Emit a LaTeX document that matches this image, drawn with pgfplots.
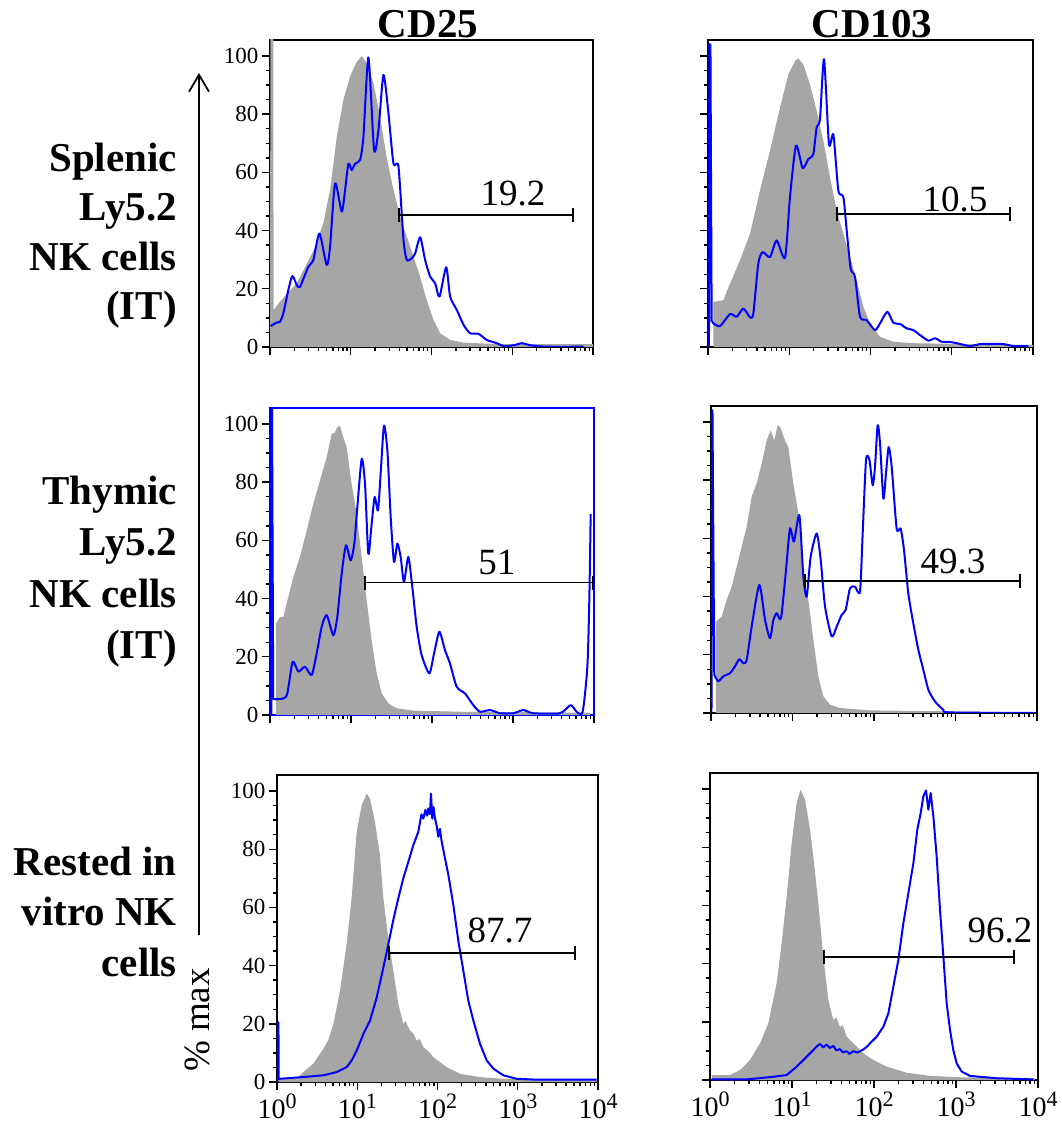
\documentclass[border=0pt]{standalone}
\usepackage{fontspec}
\setmainfont{Liberation Serif}
\usepackage{pgfplots}
\pgfplotsset{compat=1.18}
\usetikzlibrary{arrows.meta}
\definecolor{histgray}{RGB}{166,166,166}
\definecolor{fblue}{RGB}{0,0,255}
\newcommand\tsup[1]{\raisebox{10.5pt}{\fontsize{22}{22}\selectfont #1}}
\pgfplotsset{
 facs/.style={
  scale only axis, height=307pt,
  xmin=0, xmax=4, ymin=0, ymax=105.5,
  axis line style={line width=1.8pt, black},
  tick align=outside, tick pos=left,
  xtick={0,1,2,3,4},
  minor xtick={0.301,0.477,0.602,0.699,0.778,0.845,0.903,0.954,
   1.301,1.477,1.602,1.699,1.778,1.845,1.903,1.954,
   2.301,2.477,2.602,2.699,2.778,2.845,2.903,2.954,
   3.301,3.477,3.602,3.699,3.778,3.845,3.903,3.954},
  ytick={0,20,40,60,80,100},
  minor y tick num=3,
  major tick length=8pt, minor tick length=4pt,
  tick style={black, line width=1.4pt},
  /pgf/number format/assume math mode=true,
  yticklabel style={font=\fontsize{23}{23}\selectfont},
  xticklabel style={font=\fontsize{28}{28}\selectfont},
  no markers,
 },
}
\tikzset{
 greyfill/.style={fill=histgray, draw=none},
 blueline/.style={fblue, line width=2pt, line join=round},
 gate/.style={line width=1.6pt, {Bar[width=14pt,line width=1.6pt]}-{Bar[width=14pt,line width=1.6pt]}},
 numlab/.style={anchor=base, inner sep=0pt, font=\fontsize{37}{37}\selectfont},
}
\begin{document}
\begin{tikzpicture}
\path[use as bounding box] (0pt,0pt) rectangle (1062pt,1130pt);

% ---------- Row 1, left: CD25 splenic
\begin{axis}[facs, at={(270pt,783pt)}, anchor=south west, width=323pt, xticklabels={}]
\addplot[greyfill] coordinates {(0,0) (0.005,110) (0.04,110) (0.045,12.7) (0.124,15.6) (0.33,21.9) (0.537,33) (0.661,42.5) (0.744,54) (0.826,72) (0.909,85) (0.992,93) (1.074,98) (1.136,100) (1.198,97.5) (1.281,90.6) (1.364,79) (1.446,65) (1.529,54) (1.612,44.8) (1.694,38) (1.777,31) (1.86,24) (1.942,16) (2.025,9.3) (2.107,4.7) (2.231,2.4) (2.397,1.5) (2.81,1) (4,1)} \closedcycle;
\addplot[blueline, smooth, tension=0.4] coordinates {(0.008,7.2) (0.083,8.4) (0.124,8.7) (0.165,11.6) (0.227,19.6) (0.277,24.4) (0.331,21.3) (0.372,20.7) (0.475,27.6) (0.537,29.9) (0.612,39) (0.702,28.2) (0.744,34.5) (0.806,56.2) (0.888,46.5) (0.93,54) (0.971,63) (1.012,60.8) (1.054,63) (1.116,64.3) (1.157,72.3) (1.219,99.5) (1.289,67.7) (1.343,74.6) (1.405,93.5) (1.467,80.3) (1.529,63) (1.591,62) (1.653,36.8) (1.694,29.9) (1.756,30.5) (1.798,32.2) (1.86,37.7) (1.921,29.9) (1.983,24.2) (2.045,21.9) (2.099,17.3) (2.182,27.4) (2.231,17.3) (2.314,12.7) (2.397,7.6) (2.479,4.7) (2.583,4.5) (2.686,2.4) (2.81,1.3) (2.893,0.3) (3.017,0.6) (3.12,1.3) (3.223,0.6) (3.43,0.1) (3.884,0.1)};
\draw[gate] (axis cs:1.585,45.4) -- (axis cs:3.765,45.4);
\node[numlab] at (axis cs:3.009,48.5) {19.2};
\end{axis}

% ---------- Row 1, right: CD103 splenic
\begin{axis}[facs, at={(708pt,783pt)}, anchor=south west, width=325pt, xticklabels={}, yticklabels={}]
\addplot[greyfill] coordinates {(0.066,0) (0.066,15.5) (0.189,16.1) (0.271,21.8) (0.394,29.8) (0.517,38.9) (0.64,53.8) (0.763,67.5) (0.886,82.3) (0.989,93.7) (1.071,98.3) (1.112,99.2) (1.173,97.1) (1.255,90.3) (1.337,81.2) (1.419,70.9) (1.502,58.3) (1.584,46.9) (1.666,38.9) (1.748,30.9) (1.83,22.9) (1.912,13.8) (1.994,8.1) (2.117,3.5) (2.281,1.8) (2.527,1.3) (3.943,0.7) (4,0.7)} \closedcycle;
\addplot[blueline, sharp plot] coordinates {(0.012,0) (0.016,104) (0.03,104) (0.045,9) (0.066,8.1)};
\addplot[blueline, smooth, tension=0.4] coordinates {(0.066,8.1) (0.148,7.2) (0.271,11.3) (0.353,10.4) (0.435,13.2) (0.517,10.2) (0.558,11.5) (0.619,28.7) (0.673,32.6) (0.763,30.9) (0.845,36.6) (0.948,30.7) (1.009,51.5) (1.083,69.2) (1.165,61.5) (1.235,64.6) (1.296,66.3) (1.337,75.5) (1.378,78.3) (1.428,98.9) (1.489,69.7) (1.543,73) (1.604,53.8) (1.666,51.5) (1.707,40) (1.756,26.9) (1.809,24.1) (1.871,10.4) (1.953,9.2) (2.055,5.8) (2.117,8.1) (2.207,12.1) (2.281,8.3) (2.363,7.9) (2.445,6.4) (2.527,5.8) (2.609,4.1) (2.712,2.2) (2.794,3) (2.876,1.8) (2.958,1.8) (3.061,1.3) (3.225,0.3) (3.348,1) (3.635,1) (3.758,0.3) (3.943,0.3)};
\draw[gate] (axis cs:1.575,45.7) -- (axis cs:3.729,45.7);
\node[numlab] at (axis cs:3.04,46.4) {10.5};
\end{axis}

% ---------- Row 2, left: CD25 thymic
\begin{axis}[facs, at={(270pt,415pt)}, anchor=south west, width=324pt, xticklabels={}, axis line style={fblue, line width=1.8pt}]
\addplot[greyfill] coordinates {(0.074,0) (0.074,31.4) (0.123,33.7) (0.165,33.7) (0.226,40.6) (0.288,47.4) (0.37,54.3) (0.453,63.4) (0.535,72.6) (0.617,80.6) (0.7,88.6) (0.761,96.6) (0.802,97.1) (0.831,98.9) (0.864,99.4) (0.905,95.4) (0.947,92) (1.008,79.4) (1.07,69.1) (1.132,54.3) (1.193,39.4) (1.255,25.7) (1.317,14.3) (1.379,7.4) (1.461,4) (1.564,2.3) (1.77,1.5) (2.387,1.1) (3.951,0.8)} \closedcycle;
\addplot[blueline, sharp plot] coordinates {(0.004,0) (0.008,110) (0.016,0) (0.024,110) (0.04,5.5) (0.074,5.4)};
\addplot[blueline, smooth, tension=0.4] coordinates {(0.074,5.4) (0.165,5.7) (0.214,7.4) (0.28,18.3) (0.35,14.9) (0.432,16.6) (0.514,13.7) (0.576,21.1) (0.638,30.3) (0.7,34.3) (0.782,27.4) (0.831,33.7) (0.885,48.6) (0.938,58.3) (0.996,53.1) (1.041,58.9) (1.078,71.4) (1.132,88) (1.173,79.4) (1.214,55.4) (1.255,65.7) (1.292,74.9) (1.333,70.3) (1.366,82.9) (1.407,99.4) (1.449,90.9) (1.49,68) (1.531,52.6) (1.572,58.9) (1.613,54.3) (1.654,45.7) (1.708,54.3) (1.761,42.9) (1.811,30.3) (1.872,20.6) (1.967,14.3) (2.025,21.1) (2.091,28.6) (2.16,22.3) (2.222,17.7) (2.305,9.7) (2.407,7.4) (2.51,3.4) (2.593,1.1) (2.716,1.7) (2.84,0.6) (3.004,0.6) (3.128,1.7) (3.251,0.6) (3.58,0.6) (3.712,3.4) (3.786,1.1) (3.86,1.1) (3.918,16.6) (3.942,39.4) (3.959,69.1)};
\draw[gate] (axis cs:1.16,45.5) -- (axis cs:3.995,45.5);
\node[numlab] at (axis cs:2.802,48.3) {51};
\end{axis}

% ---------- Row 2, right: CD103 thymic
\begin{axis}[facs, at={(711pt,417pt)}, anchor=south west, width=326pt, xticklabels={}, yticklabels={}]
\addplot[greyfill] coordinates {(0.061,0) (0.061,31.4) (0.131,33.1) (0.192,38.9) (0.254,43.4) (0.315,50.3) (0.376,57.1) (0.438,64) (0.499,74.3) (0.56,78.9) (0.622,85.7) (0.683,93.7) (0.732,97.1) (0.777,93.7) (0.818,98.9) (0.847,98.3) (0.908,93.7) (0.949,91.4) (1.01,78.9) (1.072,68.6) (1.133,48) (1.194,38.9) (1.256,25.1) (1.317,12.6) (1.378,5.7) (1.46,2.9) (1.583,1.7) (1.951,0.9) (3.955,0.2)} \closedcycle;
\addplot[blueline, sharp plot] coordinates {(0.006,0) (0.008,104) (0.018,104) (0.04,13) (0.049,12.6)};
\addplot[blueline, smooth, tension=0.4] coordinates {(0.049,12.6) (0.09,10.9) (0.151,12.6) (0.233,13.7) (0.294,16) (0.348,18.5) (0.397,17.1) (0.438,18.3) (0.499,29.7) (0.593,44) (0.663,32) (0.724,25.7) (0.765,32) (0.806,34.3) (0.859,32.6) (0.92,49.1) (0.969,63.4) (1.018,58.9) (1.084,68) (1.133,46.9) (1.174,40) (1.223,53.7) (1.297,61.7) (1.346,52.6) (1.399,36.6) (1.481,26.3) (1.542,29.7) (1.603,33.7) (1.652,35.4) (1.706,42.9) (1.767,43.4) (1.828,41.7) (1.861,61.7) (1.902,86.9) (1.943,87.1) (1.984,78.3) (2.012,84.6) (2.045,98.9) (2.074,92.6) (2.115,73.7) (2.147,82.3) (2.18,91.4) (2.217,84.6) (2.278,63.4) (2.327,63.4) (2.368,56) (2.421,41.1) (2.482,30.9) (2.544,21.7) (2.605,14.9) (2.667,8) (2.748,4) (2.851,1.1) (2.933,0.2) (3.955,0)};
\draw[gate] (axis cs:1.141,45.4) -- (axis cs:3.804,45.4);
\node[numlab] at (axis cs:2.969,48.1) {49.3};
\end{axis}

% ---------- Row 3, left: CD25 rested
\begin{axis}[facs, at={(277pt,48pt)}, anchor=south west, width=321pt,
  xticklabels={10\tsup{0},10\tsup{1},10\tsup{2},10\tsup{3},10\tsup{4}}]
\addplot[greyfill] coordinates {(0.02,0) (0.02,0.8) (0.245,1.1) (0.328,3.4) (0.453,6.3) (0.577,11.4) (0.64,14.5) (0.702,19.9) (0.785,31.3) (0.868,47.3) (0.93,63.2) (0.993,86) (1.055,95.1) (1.117,99.1) (1.159,97.4) (1.221,89.4) (1.283,78) (1.325,63.2) (1.387,49.5) (1.45,38.2) (1.512,26.8) (1.574,19.9) (1.6,21) (1.657,17.7) (1.7,16.6) (1.74,14.2) (1.78,14.8) (1.823,12) (1.9,10.2) (1.948,8.5) (2.114,5.1) (2.28,2.8) (2.53,1.7) (2.82,1.1) (3.983,0.6)} \closedcycle;
\addplot[blueline, sharp plot] coordinates {(0.004,0) (0.006,20.5) (0.018,20.5) (0.021,1.1) (0.037,1.1) (0.328,1.7) (0.577,2.3) (0.744,3.4) (0.868,5.1) (0.93,7.4) (0.993,10.8) (1.076,16.5) (1.159,21.1) (1.242,29) (1.325,39.3) (1.387,47.3) (1.45,55.8) (1.512,63.2) (1.574,70) (1.637,75.7) (1.699,81.4) (1.761,86) (1.78,89) (1.80,92) (1.823,90.5) (1.85,93.5) (1.87,91.5) (1.886,94) (1.905,92) (1.919,99.1) (1.935,90.5) (1.95,94.5) (1.969,90.5) (1.99,88) (2.01,84.3) (2.03,87) (2.052,82.6) (2.093,76.9) (2.135,71.2) (2.197,60.9) (2.26,48.4) (2.322,38.2) (2.384,27.9) (2.447,21.1) (2.53,13.1) (2.613,7.4) (2.696,4.6) (2.82,2.3) (2.987,1.1) (3.236,0.8) (3.983,0.8)};
\draw[gate] (axis cs:1.383,44.4) -- (axis cs:3.726,44.4);
\node[numlab] at (axis cs:2.779,47.8) {87.7};
\end{axis}

% ---------- Row 3, right: CD103 rested
\begin{axis}[facs, at={(710pt,50pt)}, anchor=south west, width=328pt, yticklabels={},
  xticklabels={10\tsup{0},10\tsup{1},10\tsup{2},10\tsup{3},10\tsup{4}}]
\addplot[greyfill] coordinates {(0.02,0) (0.02,1.7) (0.244,1.7) (0.366,3.4) (0.488,6.9) (0.61,12.6) (0.711,19.5) (0.813,33.3) (0.874,47) (0.935,63.1) (0.996,81.4) (1.057,95.2) (1.106,99.8) (1.159,96.3) (1.22,86) (1.26,76.8) (1.321,60.8) (1.382,42.4) (1.443,27.5) (1.504,20.6) (1.54,21.5) (1.585,18.3) (1.62,18.8) (1.667,14.9) (1.748,12.6) (1.87,9.2) (1.992,6.9) (2.154,4.6) (2.398,2.5) (2.683,1.4) (3.089,0.9) (3.963,0.6)} \closedcycle;
\addplot[blueline, sharp plot] coordinates {(0.02,0.2) (0.447,0.2) (0.772,1.1) (0.935,1.7) (1.057,4.6) (1.179,8) (1.26,10.3) (1.30,11.5) (1.341,12.4) (1.38,11.2) (1.423,12.2) (1.46,11) (1.504,11.7) (1.54,10.2) (1.585,10.6) (1.62,9.5) (1.667,9.9) (1.70,9) (1.748,9.9) (1.80,9.4) (1.87,10.5) (1.92,11.6) (1.951,12.6) (2.033,14.9) (2.114,18.3) (2.175,22.9) (2.236,32.1) (2.297,41.3) (2.358,53.9) (2.419,64.2) (2.48,74.5) (2.528,86) (2.569,91.7) (2.602,97.5) (2.634,99.5) (2.663,92.9) (2.691,98.6) (2.724,90.6) (2.764,76.8) (2.805,58.5) (2.846,42.4) (2.886,26.4) (2.927,17.2) (2.967,10.3) (3.008,5.7) (3.069,2.9) (3.171,1.4) (3.496,0.6) (3.943,0.2)};
\draw[gate] (axis cs:1.378,42.3) -- (axis cs:3.72,42.3);
\node[numlab] at (axis cs:3.537,47.4) {96.2};
\end{axis}

% ---------- titles and row labels
\begin{scope}[every node/.style={inner sep=0pt, font=\fontsize{41}{41}\selectfont\bfseries}]
\node[anchor=base] at (428pt,1092pt) {CD25};
\node[anchor=base] at (872pt,1092pt) {CD103};
\node[anchor=base east] at (177pt,958pt) {Splenic};
\node[anchor=base east] at (177pt,909pt) {Ly5.2};
\node[anchor=base east] at (177pt,859pt) {NK cells};
\node[anchor=base east] at (177pt,810pt) {(IT)};
\node[anchor=base east] at (177pt,625pt) {Thymic};
\node[anchor=base east] at (177pt,574pt) {Ly5.2};
\node[anchor=base east] at (177pt,522pt) {NK cells};
\node[anchor=base east] at (177pt,471pt) {(IT)};
\node[anchor=base east] at (177pt,254pt) {Rested in};
\node[anchor=base east] at (177pt,204pt) {vitro NK};
\node[anchor=base east] at (177pt,153pt) {cells};
\end{scope}
\draw[line width=1.8pt, -{Straight Barb[length=17pt,width=20pt,line width=1.8pt]}] (199pt,195pt) -- (199pt,1057pt);
\node[rotate=90, inner sep=0pt, font=\fontsize{37}{37}\selectfont] at (197pt,110pt) {\% max};
\end{tikzpicture}
\end{document}
